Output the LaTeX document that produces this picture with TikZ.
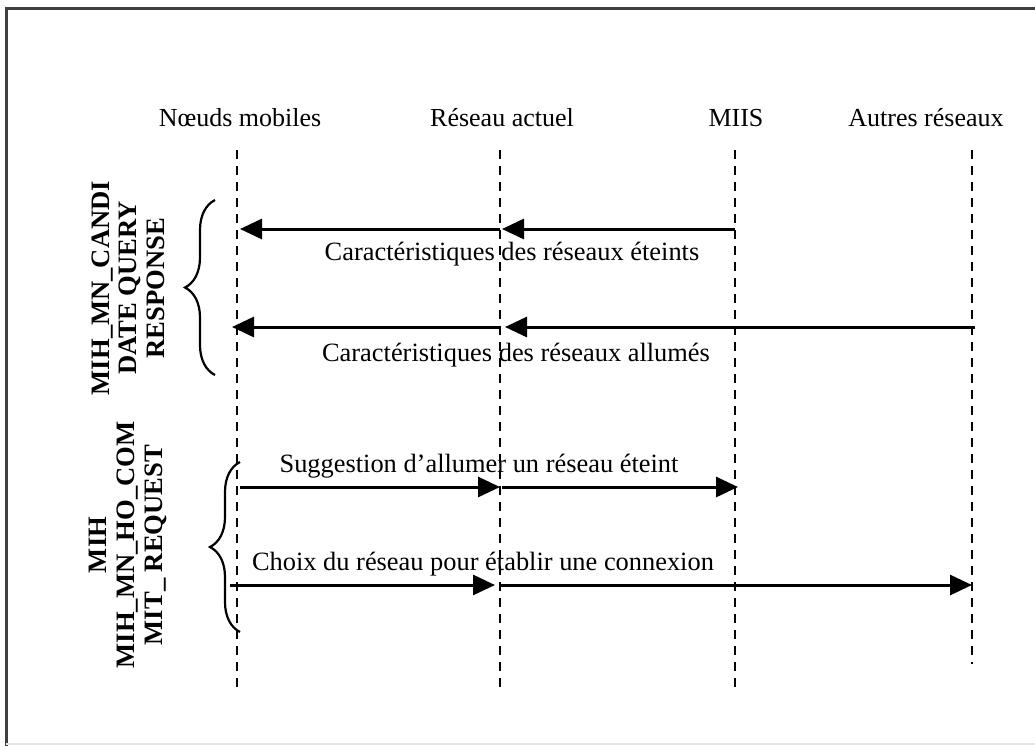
\documentclass[tikz,border=0pt]{standalone}
\usepackage{fontspec}
\setmainfont{Liberation Serif}
\usetikzlibrary{arrows.meta,decorations.pathreplacing}
\begin{document}
\begin{tikzpicture}[x=0.5pt,y=-0.5pt,
  frame/.style={line width=1.5pt,draw=black!75},
  lifeline/.style={line width=1.2pt,dash pattern=on 4.5pt off 3.5pt},
  msg/.style={line width=1.5pt,-{Triangle[length=11pt,width=10pt]}},
  hdr/.style={font=\fontsize{13}{15}\selectfont,anchor=base,inner sep=0pt},
  lbl/.style={font=\fontsize{13.2}{15}\selectfont,anchor=base,inner sep=0pt},
  side/.style={font=\bfseries\fontsize{13.3}{13.8}\selectfont,rotate=90,align=center,inner sep=0pt},
  bracestyle/.style={line width=1.1pt,decorate,decoration={brace,amplitude=15pt}}]
\useasboundingbox (0,0) rectangle (1035,746);
% frame
\draw[frame] (6,746) -- (6,8) -- (1035,8);
\draw[black!10,line width=1pt] (6,744) -- (1035,744);
% headers
\node[hdr] (hNM) at (240,126) {Nœuds mobiles};
\node[hdr] (hRA) at (502,126) {Réseau actuel};
\node[hdr] (hMI) at (736,126) {MIIS};
\node[hdr] (hAR) at (926,126) {Autres réseaux};
% lifelines
\coordinate (nmT) at (237,150); \coordinate (nmB) at (237,688);
\coordinate (raT) at (500,150); \coordinate (raB) at (500,688);
\coordinate (miT) at (735,150); \coordinate (miB) at (735,688);
\coordinate (arT) at (972,150); \coordinate (arB) at (972,664);
\draw[lifeline] (nmT) -- (nmB);
\draw[lifeline] (raT) -- (raB);
\draw[lifeline] (miT) -- (miB);
\draw[lifeline] (arT) -- (arB);
% message points
\coordinate (a1) at (735,229); \coordinate (a2) at (502,229); \coordinate (a2s) at (500,229); \coordinate (a3) at (240,229);
\coordinate (b1) at (975,327); \coordinate (b2) at (505,327); \coordinate (b2s) at (500,327); \coordinate (b3) at (232,327);
\coordinate (c1) at (240,487); \coordinate (c2) at (500,487); \coordinate (c2s) at (502,487); \coordinate (c3) at (738,487);
\coordinate (d1) at (230,585); \coordinate (d2) at (495,585); \coordinate (d2s) at (500,585); \coordinate (d3) at (972,585);
\draw[msg] (a1) -- (a2);
\draw[msg] (a2s) -- (a3);
\draw[msg] (b1) -- (b2);
\draw[msg] (b2s) -- (b3);
\draw[msg] (c1) -- (c2);
\draw[msg] (c2s) -- (c3);
\draw[msg] (d1) -- (d2);
\draw[msg] (d2s) -- (d3);
% labels
\node[lbl] (l1) at (512,260) {Caractéristiques des réseaux éteints};
\node[lbl] (l2) at (516,361) {Caractéristiques des réseaux allumés};
\node[lbl] (l3) at (479,472) {Suggestion d’allumer un réseau éteint};
\node[lbl] (l4) at (483,570) {Choix du réseau pour établir une connexion};
% braces
\coordinate (br1b) at (215,375); \coordinate (br1t) at (215,200);
\coordinate (br2b) at (240,632); \coordinate (br2t) at (240,462);
\draw[bracestyle] (br1b) -- (br1t);
\draw[bracestyle] (br2b) -- (br2t);
% side labels
\node[side] (s1) at (128,288) {MIH\_MN\_CANDI\\DATE QUERY\\RESPONSE};
\node[side] (s2) at (128,545) {MIH\\MIH\_MN\_HO\_COM\\MIT\_ REQUEST};
\end{tikzpicture}
\end{document}
